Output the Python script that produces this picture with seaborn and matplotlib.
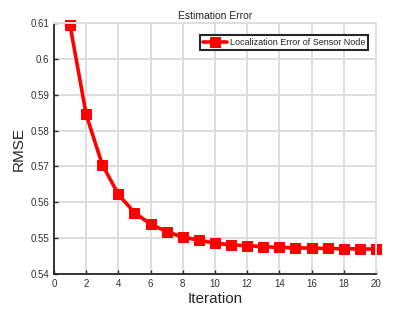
import matplotlib
matplotlib.use("Agg")
import matplotlib.pyplot as plt
import seaborn as sns
import pandas as pd

iterations = list(range(1, 21))
rmse = [0.6094, 0.5845, 0.5705, 0.5622, 0.5571, 0.5539, 0.5518, 0.5503, 0.5494, 0.5486,
        0.5481, 0.5479, 0.5476, 0.5474, 0.5473, 0.5472, 0.5471, 0.5470, 0.5470, 0.5469]
series_name = "Localization Error of Sensor Node"
xticks = list(range(0, 21, 2))
yticks = [0.54, 0.55, 0.56, 0.57, 0.58, 0.59, 0.6, 0.61]
ytick_labels = ["0.54", "0.55", "0.56", "0.57", "0.58", "0.59", "0.6", "0.61"]

sns.set_style("white")
plt.rcParams['font.family'] = ['Liberation Sans', 'DejaVu Sans']

df = pd.DataFrame({"Iteration": iterations, "RMSE": rmse})

fig = plt.figure(figsize=(4.15, 3.12), dpi=100)
ax = fig.add_axes([0.130, 0.122, 0.776, 0.804])

sns.lineplot(data=df, x="Iteration", y="RMSE", ax=ax, color="#ff0000", linewidth=2.6,
             marker="s", markersize=6.5, markeredgecolor="#ff0000", label=series_name)
for ln in ax.lines:
    ln.set_clip_on(False)

ax.set_xlim(0, 20)
ax.set_ylim(0.54, 0.61)
ax.set_xticks(xticks)
ax.set_yticks(yticks)
ax.set_yticklabels(ytick_labels)
ax.grid(True, color="#dedede", linewidth=1.4)
ax.set_axisbelow(True)
for side in ["left", "bottom"]:
    ax.spines[side].set_color("#262626")
    ax.spines[side].set_linewidth(1.3)
for side in ["top", "right"]:
    ax.spines[side].set_color("#dedede")
    ax.spines[side].set_linewidth(1.4)
ax.tick_params(direction="in", length=3, width=1, labelsize=7, colors="#262626",
               top=False, right=False, bottom=True, left=True)
ax.tick_params(labelcolor="#333333")
ax.set_xlabel("Iteration", fontsize=11, color="#262626", labelpad=2)
ax.set_ylabel("RMSE", fontsize=11, color="#262626", labelpad=3)
ax.set_title("Estimation Error", fontsize=7.5, color="#262626", pad=3)

leg = ax.legend(loc="upper right", fontsize=6.5, frameon=True, fancybox=False,
                edgecolor="#262626", framealpha=1, borderpad=0.3, handlelength=2.6,
                handletextpad=0.4, bbox_to_anchor=(0.99, 0.97))
leg.get_frame().set_linewidth(1.5)

fig.savefig("out.png", dpi=100)
